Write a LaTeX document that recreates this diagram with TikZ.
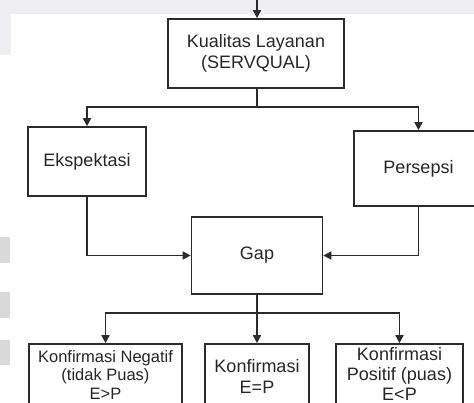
\documentclass[tikz,border=0pt]{standalone}
\usepackage{fontspec}
\setmainfont{Liberation Sans}
\usepackage{tikz}
\usetikzlibrary{arrows.meta}
\definecolor{garis}{HTML}{2B2B2B}
\definecolor{latar}{HTML}{EFEFF1}
\definecolor{pita}{HTML}{DADADA}
\tikzset{
  kotak/.style={rectangle, draw=garis, line width=1.6pt, align=center, inner sep=0pt,
    text=black!85, font=\fontsize{18}{21}\selectfont},
  panah/.style={draw=garis, line width=1.6pt, -{Triangle[length=8pt, width=8pt]}},
  sambung/.style={draw=garis, line width=1.6pt}
}
\begin{document}
\begin{tikzpicture}[x=1pt, y=-1pt]
            \useasboundingbox (0,0) rectangle (474,403);
            \clip (0,0) rectangle (474,403);
            % Background
            \fill[latar] (0,0) rectangle (474,14);
            \fill[latar] (0,14) rectangle (11,55);
            \fill[pita] (0,237) rectangle (10,263);
            \fill[pita] (0,292) rectangle (10,318);
            \fill[pita] (0,340) rectangle (10,365);

            % Nodes
            \node[kotak, minimum width=176, minimum height=69] (kualitas) at (256, 53.5) {Kualitas Layanan\\(SERVQUAL)};
            \node[kotak, minimum width=118, minimum height=69] (ekspektasi) at (87, 161.5) {Ekspektasi};
            \node[kotak, minimum width=129, minimum height=75] (persepsi) at (418.5, 168.5) {Persepsi};
            \node[kotak, minimum width=131, minimum height=77] (gap) at (257, 255.5) {Gap};
            \node[kotak, minimum width=153, minimum height=62, font=\fontsize{16.5}{18.5}\selectfont] (negatif) at (105.5, 375) {Konfirmasi Negatif\\(tidak Puas)\\E>P};
            \node[kotak, minimum width=104, minimum height=64] (konfirmasi) at (257, 376) {Konfirmasi\\E=P};
            \node[kotak, minimum width=127, minimum height=60, font=\fontsize{18}{20}\selectfont] (positif) at (399.5, 374) {Konfirmasi\\Positif (puas)\\E<P};
            \coordinate (atas) at (257, 0);
            \coordinate (cabang1) at (257, 107);
            \coordinate (cabang2) at (257, 313);

            % Lines
            \draw[panah] (atas) -- (atas |- kualitas.north);
            \draw[sambung] (atas |- kualitas.south) -- (cabang1);
            \draw[panah] (cabang1) -| (ekspektasi.north);
            \draw[panah] (cabang1) -| (persepsi.north);
            \draw[panah] (ekspektasi.south) |- (gap.west);
            \draw[panah] (persepsi.south) |- (gap.east);
            \draw[sambung] (gap.south) -- (cabang2);
            \draw[panah] (cabang2) -| (negatif.north);
            \draw[panah] (cabang2) -- (konfirmasi.north);
            \draw[panah] (cabang2) -| (positif.north);
        \end{tikzpicture}
\end{document}
